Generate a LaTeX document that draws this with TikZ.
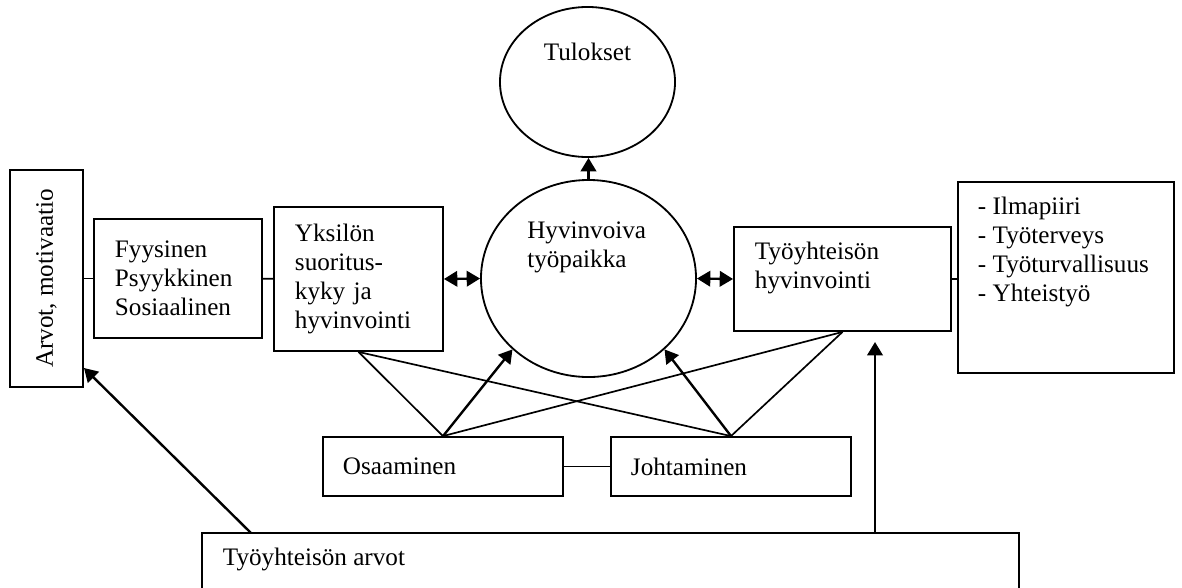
\documentclass[tikz,border=0pt]{standalone}
\usepackage{fontspec}
\setmainfont{Liberation Serif}
\usetikzlibrary{arrows.meta,shapes.geometric}
\tikzset{
	laatikko/.style={draw, line width=1.3pt, inner xsep=0.525cm, inner ysep=0pt, align=left},
	soikio/.style={draw, ellipse, line width=1.3pt, inner sep=0pt},
	viiva/.style={line width=1.2pt},
	nuoli/.style={line width=1.7pt, ->},
	kaksoisnuoli/.style={line width=1.7pt, <->},
}
\begin{document}
\begin{tikzpicture}[x=0.025cm, y=-0.025cm, >={Triangle[length=9.5pt,width=11pt]}, font=\fontsize{17.9}{20.6}\selectfont]
				\useasboundingbox (0,0) rectangle (1182,587);
				\clip (0,0) rectangle (1182,587);
				%soikiot
				\node[soikio, minimum width=4.375cm, minimum height=3.75cm] (tulokset) at (587.5,82) {};
				\node[inner sep=0pt] (tulosteksti) at (587.5,52) {Tulokset};
				\node[soikio, minimum width=5.375cm, minimum height=4.925cm] (hyv) at (588.5,278.5) {};
				\node[inner sep=0pt, anchor=north west, align=left] (hyvteksti) at (527,222) {Hyvinvoiva\\työpaikka};
				%vasen puoli
				\node[laatikko, inner sep=0pt, minimum width=1.825cm, minimum height=5.425cm] (arvot) at (46.5,278.5) {\rotatebox{90}{Arvot, motivaatio}};
				\node[laatikko, text width=3.15cm, minimum height=2.975cm] (fyys) at (178,278.5) {Fyysinen\\Psyykkinen\\Sosiaalinen};
				\node[laatikko, text width=3.175cm, minimum height=3.6cm] (yksilo) at (358.5,279) {Yksilön\\suoritus-\\kyky ja\\hyvinvointi};
				%oikea puoli
				\node[laatikko, inner ysep=0.38cm] (tyohyv) at (842.5,279) {\parbox[c][1.84cm][t]{4.375cm}{\raggedright Työyhteisön\\hyvinvointi}};
				\node[laatikko, inner xsep=0.5cm, inner ysep=0.38cm] (oikea) at (1066,277.5) {\parbox[c][4.015cm][t]{4.4cm}{\raggedright - Ilmapiiri\\- Työterveys\\- Työturvallisuus\\- Yhteistyö}};
				%alarivi
				\node[laatikko, text width=5cm, inner xsep=0.5cm, minimum height=1.475cm] (osaam) at (443,466.5) {Osaaminen};
				\node[laatikko, text width=5cm, inner xsep=0.5cm, minimum height=1.475cm] (johto) at (731,466.5) {Johtaminen};
				\node[laatikko, inner ysep=0.38cm] (arvotyo) at (610.5,583) {\parbox[c][1.74cm][t]{19.375cm}{\raggedright Työyhteisön arvot}};
				%yhteydet
				\draw[viiva] (arvot) -- (fyys);
				\draw[viiva] (fyys) -- (yksilo);
				\draw[kaksoisnuoli] (yksilo.east) -- (hyv.west);
				\draw[kaksoisnuoli] (hyv.east) -- (tyohyv.west);
				\draw[viiva] (tyohyv.east) -- (tyohyv.east -| oikea.west);
				\draw[nuoli] (hyv.north) -- (hyv.north |- tulokset.south);
				\draw[viiva] (osaam) -- (johto);
				\foreach \a in {yksilo, tyohyv} {
					\foreach \b in {osaam, johto} {
						\draw[viiva] (\a.south) -- (\b.north);
					}
				}
				\foreach \b/\k in {osaam/223, johto/317} {
					\draw[nuoli] (\b.north) -- (hyv.\k);
				}
				%arvot alhaalta
				\coordinate (vasenlahto) at (251,533);
				\coordinate (arvokohta) at (84,368);
				\coordinate (oikealahto) at (875,533);
				\coordinate (tyokohta) at (875,342);
				\draw[nuoli] (vasenlahto) -- (arvokohta);
				\draw[nuoli] (oikealahto) -- (tyokohta);
			\end{tikzpicture}
\end{document}
